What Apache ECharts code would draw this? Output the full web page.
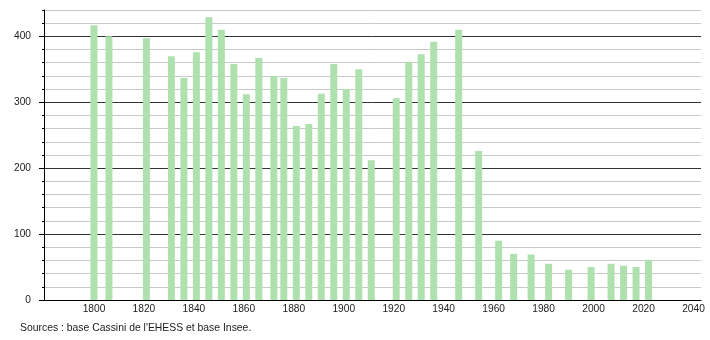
<!DOCTYPE html>
<html>
<head>
<meta charset="utf-8">
<script src="https://cdn.jsdelivr.net/npm/echarts@6/dist/echarts.min.js"></script>
<style>
  html, body { margin: 0; padding: 0; background: #fff; }
  #chart { width: 710px; height: 340px; }
</style>
</head>
<body>
<div id="chart"></div>
<script>
const years = [1800, 1806, 1821, 1831, 1836, 1841, 1846, 1851, 1856, 1861, 1866, 1872, 1876, 1881, 1886, 1891, 1896, 1901, 1906, 1911, 1921, 1926, 1931, 1936, 1946, 1954, 1962, 1968, 1975, 1982, 1990, 1999, 2007, 2012, 2017, 2022];
const population = [417, 400, 397, 370, 337, 376, 429, 410, 358, 312, 367, 340, 337, 264, 267, 313, 358, 320, 350, 212, 306, 361, 373, 392, 410, 226, 90, 70, 69, 55, 46, 50, 55, 52, 50, 61];
const xTickLabels = [1800, 1820, 1840, 1860, 1880, 1900, 1920, 1940, 1960, 1980, 2000, 2020, 2040];
const yTickLabels = [0, 100, 200, 300, 400];
const sourceText = "Sources : base Cassini de l'EHESS et base Insee.";

const chart = echarts.init(document.getElementById('chart'), null, { renderer: 'canvas' });
const font = 'Liberation Sans, Arial, sans-serif';

chart.setOption({
  animation: false,
  backgroundColor: '#ffffff',
  grid: { left: 44, right: 9, top: 10, bottom: 40, containLabel: false },
  xAxis: {
    type: 'value',
    min: 1780,
    max: 2043,
    interval: 20,
    axisLine: { show: true, lineStyle: { color: '#000', width: 1 } },
    axisTick: { show: false },
    splitLine: { show: false },
    axisLabel: {
      customValues: xTickLabels,
      formatter: v => String(v),
      color: '#222',
      fontFamily: font,
      fontSize: 10.2,
      margin: 4
    }
  },
  yAxis: [
    {
      type: 'value',
      min: 0,
      max: 440,
      interval: 20,
      axisLine: { show: true, lineStyle: { color: '#000', width: 1 } },
      axisTick: { show: true, length: 2, lineStyle: { color: '#000' } },
      splitLine: {
        show: true,
        lineStyle: { color: ['#333333', '#c8c8c8', '#c8c8c8', '#c8c8c8', '#c8c8c8'], width: 1 }
      },
      axisLabel: {
        customValues: yTickLabels,
        formatter: v => String(v),
        color: '#222',
        fontFamily: font,
        fontSize: 10.2,
        margin: 13
      }
    },
    {
      type: 'value',
      min: 0,
      max: 440,
      interval: 20,
      position: 'left',
      offset: 0,
      axisLine: { show: false },
      axisTick: { show: true, length: 5, customValues: yTickLabels, lineStyle: { color: '#000' } },
      splitLine: { show: false },
      axisLabel: { show: false }
    }
  ],
  series: [
    {
      type: 'bar',
      yAxisIndex: 0,
      barWidth: 7,
      data: years.map((y, i) => [y, population[i]]),
      itemStyle: { color: '#afe1af' }
    }
  ],
  graphic: [
    {
      type: 'text',
      left: 20,
      top: 323,
      style: { text: sourceText, fill: '#222', font: '10.4px ' + font }
    }
  ]
});
</script>
</body>
</html>
